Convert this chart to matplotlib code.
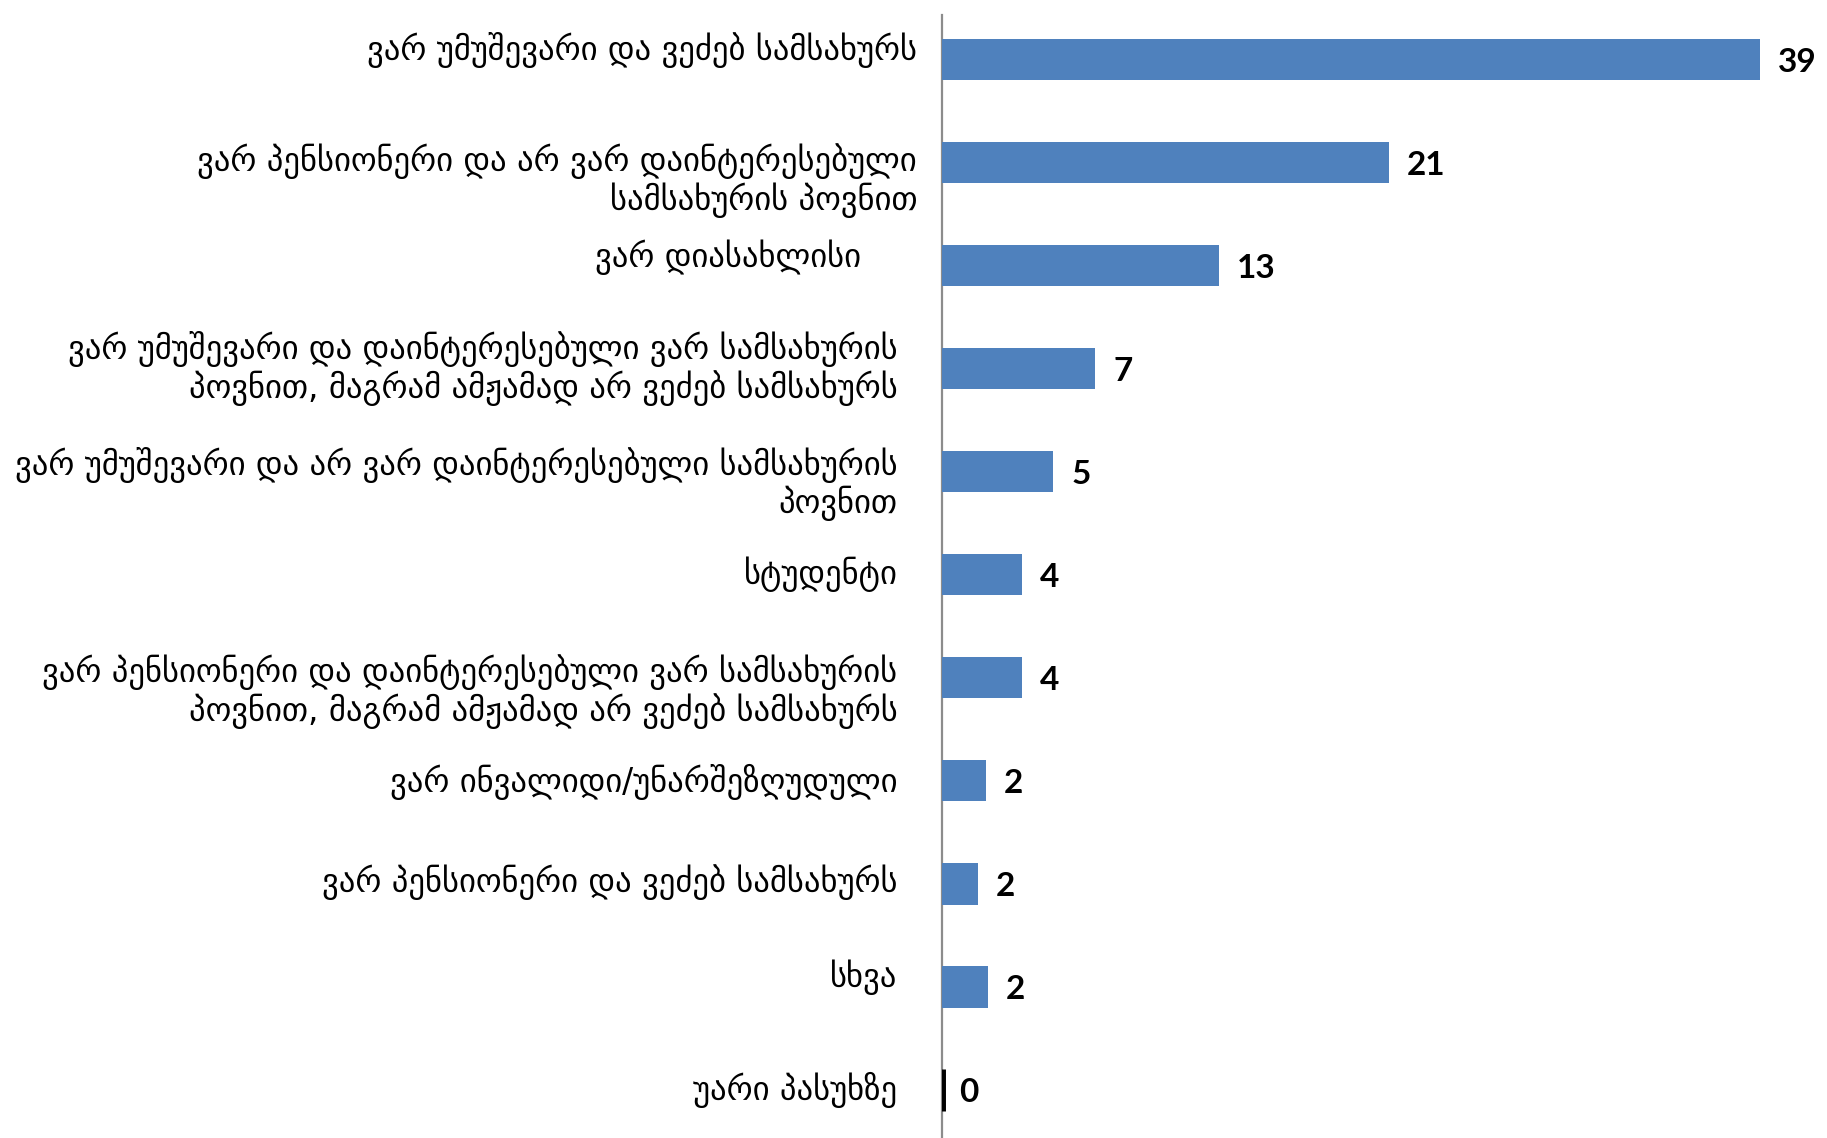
import matplotlib
matplotlib.use("Agg")
import matplotlib.pyplot as plt

# answers, top to bottom
labels = [
    "ვარ უმუშევარი და ვეძებ სამსახურს",
    "ვარ პენსიონერი და არ ვარ დაინტერესებული\nსამსახურის პოვნით",
    "ვარ დიასახლისი",
    "ვარ უმუშევარი და დაინტერესებული ვარ სამსახურის\nპოვნით, მაგრამ ამჟამად არ ვეძებ სამსახურს",
    "ვარ უმუშევარი და არ ვარ დაინტერესებული სამსახურის\nპოვნით",
    "სტუდენტი",
    "ვარ პენსიონერი და დაინტერესებული ვარ სამსახურის\nპოვნით, მაგრამ ამჟამად არ ვეძებ სამსახურს",
    "ვარ ინვალიდი/უნარშეზღუდული",
    "ვარ პენსიონერი და ვეძებ სამსახურს",
    "სხვა",
    "უარი პასუხზე",
]
# percent (bar lengths) and the printed labels
values = [39.0, 21.3, 13.2, 7.3, 5.3, 3.8, 3.8, 2.1, 1.7, 2.2, 0.0]
shown = [39, 21, 13, 7, 5, 4, 4, 2, 2, 2, 0]

# label placement tweaks (points): x gap from axis, y shift
lab_dx = [-18, -18, -58, -32, -32, -32, -32, -32, -32, -32, -32]
lab_dy = [7, -13, 6, 0, -9, 0, -10, -1, 1, 7, 0]

blue = "#4F81BD"

fig = plt.figure(figsize=(18.27, 11.38), dpi=100)
ax = fig.add_axes([942 / 1827, 0.0, 1 - 942 / 1827 - 0.005, 1 - 15 / 1138])

ypos = list(range(len(values)))
cols = [blue if v > 0 else "black" for v in values]
edges = ["none" if v > 0 else "black" for v in values]
ax.barh(ypos, values, height=0.4, color=cols, edgecolor=edges, linewidth=5)

ax.set_ylim(len(values) - 0.535, -0.43)
ax.set_xlim(0, 41.75)

for s in ["top", "right", "bottom"]:
    ax.spines[s].set_visible(False)
ax.spines["left"].set_color("#8c8c8c")
ax.spines["left"].set_linewidth(1.6)
ax.spines["left"].set_zorder(0.5)
ax.set_xticks([])
ax.set_yticks([])

for i, (lab, v, s) in enumerate(zip(labels, values, shown)):
    ax.annotate(lab, xy=(0, i), xytext=(lab_dx[i], lab_dy[i]),
                textcoords="offset points", ha="right", va="center",
                multialignment="right", fontsize=23.5, family="DejaVu Sans",
                linespacing=1.1, annotation_clip=False)
    ax.annotate(str(s), xy=(v, i), xytext=(13 if v > 0 else 12, -2),
                textcoords="offset points", ha="left", va="center",
                fontsize=24, fontweight="bold", family="Lato")

fig.savefig("out.png", dpi=100)
